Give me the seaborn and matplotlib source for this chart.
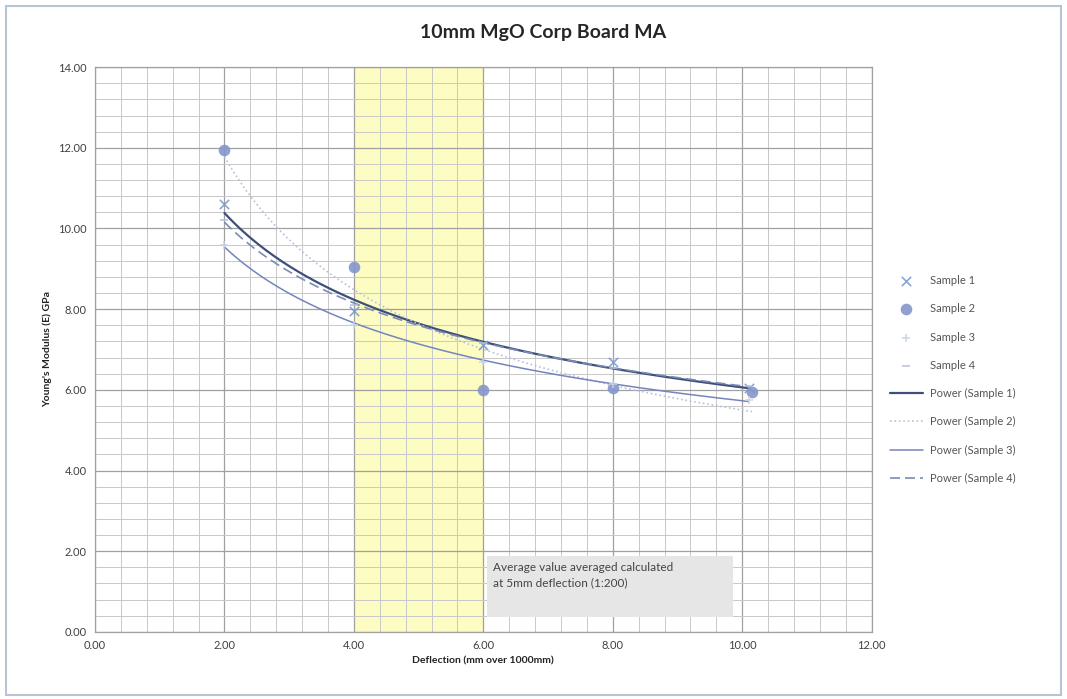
import matplotlib.pyplot as plt
import seaborn as sns
import pandas as pd
import numpy as np
from matplotlib.patches import Rectangle
from matplotlib.ticker import MultipleLocator, FormatStrFormatter

sns.set_theme(style='white')
plt.rcParams['font.family'] = ['Lato', 'DejaVu Sans']

# 데이터
samples = ['Sample 1', 'Sample 2', 'Sample 3', 'Sample 4']
x_s1 = [2.0, 4.0, 6.0, 8.0, 10.1]
y_s1 = [10.6, 7.95, 7.1, 6.7, 6.05]
x_s2 = [2.0, 4.0, 6.0, 8.0, 10.15]
y_s2 = [11.95, 9.05, 6.0, 6.05, 5.95]
x_s3 = [2.0, 4.0, 6.0, 8.0, 10.1]
y_s3 = [9.6, 7.6, 6.7, 6.15, 5.75]
x_s4 = [2.0, 4.0, 6.0, 8.0, 10.1]
y_s4 = [10.2, 8.1, 7.15, 6.55, 6.1]

band_lo, band_hi = 4.0, 6.0
note = 'Average value averaged calculated\nat 5mm deflection (1:200)'

xs = [x_s1, x_s2, x_s3, x_s4]
ys = [y_s1, y_s2, y_s3, y_s4]
df = pd.concat([pd.DataFrame({'x': a, 'y': b, 'sample': s}) for a, b, s in zip(xs, ys, samples)])

# 스타일
mk = {'Sample 1': 'x', 'Sample 2': 'o', 'Sample 3': '+', 'Sample 4': '_'}
mc = {'Sample 1': '#7f9bd0', 'Sample 2': '#8496cc', 'Sample 3': '#c9d3e6', 'Sample 4': '#b3bfd9'}
ms = {'Sample 1': 45, 'Sample 2': 70, 'Sample 3': 40, 'Sample 4': 40}
lc = {'Sample 1': '#3e5079', 'Sample 2': '#b5c1dc', 'Sample 3': '#7485bd', 'Sample 4': '#7a8bb5'}
ls = {'Sample 1': '-', 'Sample 2': ':', 'Sample 3': '-', 'Sample 4': (0, (6, 3))}
lw = {'Sample 1': 1.6, 'Sample 2': 1.2, 'Sample 3': 1.1, 'Sample 4': 1.2}

fig = plt.figure(figsize=(10.67, 6.99), dpi=100)
fig.patches.append(Rectangle((0.006, 0.006), 0.988, 0.985, transform=fig.transFigure,
                             fill=False, edgecolor='#b8c4d6', linewidth=1.5))
ax = fig.add_axes([0.089, 0.096, 0.728, 0.808])

ax.axvspan(band_lo, band_hi, color='#fdfcc2', zorder=0)

# 파워 추세선 (데이터로부터 적합)
for s, a, b in zip(samples, xs, ys):
    bb, la = np.polyfit(np.log(a), np.log(b), 1)
    xf = np.linspace(min(a), max(a), 200)
    fit = pd.DataFrame({'x': xf, 'y': np.exp(la) * xf ** bb})
    sns.lineplot(data=fit, x='x', y='y', ax=ax, color=lc[s], linestyle=ls[s],
                 linewidth=lw[s], label=f'Power ({s})', zorder=3)

for s in samples:
    d = df[df['sample'] == s]
    sns.scatterplot(data=d, x='x', y='y', ax=ax, marker=mk[s], color=mc[s], s=ms[s],
                    linewidth=1.2 if mk[s] != 'o' else 0, label=s, zorder=4, alpha=0.9)

ax.add_patch(Rectangle((6.05, 0.37), 3.8, 1.5, facecolor='#e6e6e6', edgecolor='none', zorder=2))
ax.text(6.15, 1.12, note, fontsize=8.5, color='#444444', zorder=5, linespacing=1.5)

ax.set_xlim(0, 12)
ax.set_ylim(0, 14)
ax.xaxis.set_major_locator(MultipleLocator(2))
ax.yaxis.set_major_locator(MultipleLocator(2))
ax.xaxis.set_minor_locator(MultipleLocator(0.4))
ax.yaxis.set_minor_locator(MultipleLocator(0.4))
ax.xaxis.set_major_formatter(FormatStrFormatter('%.2f'))
ax.yaxis.set_major_formatter(FormatStrFormatter('%.2f'))
ax.grid(which='major', color='#a0a0a0', linewidth=0.9)
ax.grid(which='minor', color='#c8c8c8', linewidth=0.7)
ax.set_axisbelow(True)
for sp in ax.spines.values():
    sp.set_color('#a0a0a0')
    sp.set_linewidth(0.9)
ax.tick_params(axis='both', labelsize=8, colors='#404040', length=0, pad=6)

ax.set_xlabel('Deflection (mm over 1000mm)', fontsize=7.5, fontweight='bold', color='#222222')
ax.set_ylabel("Young's Modulus (E) GPa", fontsize=7.5, fontweight='bold', color='#222222')
fig.suptitle('10mm MgO Corp Board MA', fontsize=14, fontweight='bold', x=0.509, y=0.965)

h, l = ax.get_legend_handles_labels()
order = [4, 5, 6, 7, 0, 1, 2, 3]
ax.legend([h[i] for i in order], [l[i] for i in order], loc='center left',
          bbox_to_anchor=(1.01, 0.447), frameon=False, fontsize=8, labelcolor='#555555',
          handlelength=3.0, handletextpad=0.6, labelspacing=1.55)

fig.savefig('out.png', dpi=100)
